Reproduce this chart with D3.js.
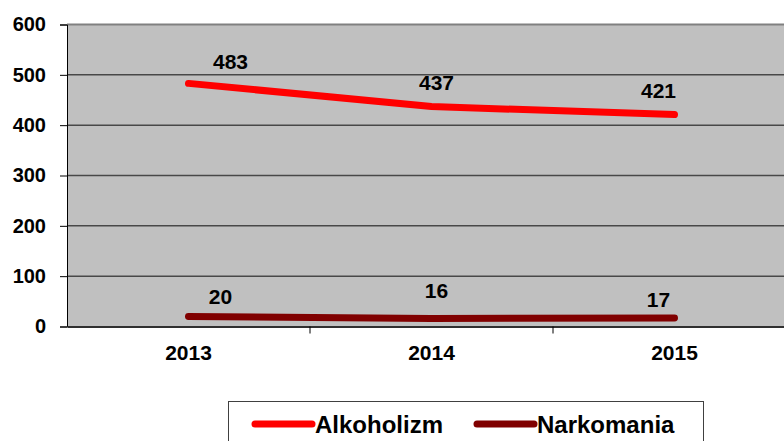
<!DOCTYPE html>
<html lang="en">
<head>
    <meta charset="UTF-8">
    <script src="https://d3js.org/d3.v7.min.js"></script>
    <title>Alkoholizm / Narkomania</title>
    <style>
        body { margin: 0; background: white; }
        text { font-family: "Liberation Sans", Arial, sans-serif; font-weight: bold; fill: black; }
    </style>
</head>
<body>
    <div class="fig"></div>
    <script>
        // data
        const years = ["2013", "2014", "2015"];
        const alkoholizm = [483, 437, 421];
        const narkomania = [20, 16, 17];
        const seriesNames = ["Alkoholizm", "Narkomania"];
        const yTicks = [0, 100, 200, 300, 400, 500, 600];

        const seriesColors = ["#ff0000", "#800000"];
        // label nudges, as the original placed them by hand
        const labelDx = [[42, 5, -16], [32, 5, -16]];
        const labelDy = [[-14, -17, -17], [-12, -20, -11]];

        const width = 784, height = 441;
        const plot = { left: 67, right: 796, top: 24.5, bottom: 326.5 };

        const svg = d3.select(".fig").append("svg")
            .attr("width", width)
            .attr("height", height);

        const x = d3.scaleBand().domain(years).range([plot.left, plot.right]);
        const y = d3.scaleLinear().domain([0, 600]).range([plot.bottom, plot.top]);

        // grey plot area
        svg.append("rect")
            .attr("x", plot.left).attr("y", plot.top)
            .attr("width", plot.right - plot.left).attr("height", plot.bottom - plot.top)
            .attr("fill", "#c0c0c0");

        // gridlines
        svg.selectAll(".grid")
            .data(yTicks.filter(d => d > 0 && d < 600))
            .enter().append("line")
            .attr("x1", plot.left).attr("x2", plot.right)
            .attr("y1", d => y(d)).attr("y2", d => y(d))
            .attr("stroke", "#484848").attr("stroke-width", 1.5);

        svg.append("line")
            .attr("x1", plot.left).attr("x2", plot.right)
            .attr("y1", y(600)).attr("y2", y(600))
            .attr("stroke", "#808080").attr("stroke-width", 2);

        // y axis
        const yAxis = svg.append("g")
            .attr("transform", `translate(${plot.left},0)`)
            .call(d3.axisLeft(y).tickValues(yTicks).tickSize(7).tickPadding(14));
        yAxis.select(".domain").attr("stroke", "black");
        yAxis.selectAll("text").style("font-size", "20px").attr("fill", "black");

        // x axis: ticks sit on the band edges
        const xAxis = svg.append("g")
            .attr("transform", `translate(0,${plot.bottom})`)
            .call(d3.axisBottom(x).tickSize(0).tickPadding(19));
        xAxis.select(".domain").attr("stroke", "#303030").attr("stroke-width", 2);
        xAxis.selectAll("text").style("font-size", "21px").attr("fill", "black");
        svg.selectAll(".xtick")
            .data(years.slice(1))
            .enter().append("line")
            .attr("x1", d => x(d)).attr("x2", d => x(d))
            .attr("y1", plot.bottom).attr("y2", plot.bottom + 7)
            .attr("stroke", "black");

        // lines
        const line = d3.line()
            .x((d, i) => x(years[i]) + x.bandwidth() / 2)
            .y(d => y(d));

        [alkoholizm, narkomania].forEach((values, s) => {
            svg.append("path")
                .datum(values)
                .attr("d", line)
                .attr("fill", "none")
                .attr("stroke", seriesColors[s])
                .attr("stroke-width", 7)
                .attr("stroke-linecap", "round")
                .attr("stroke-linejoin", "round");

            svg.selectAll(".lbl" + s)
                .data(values)
                .enter().append("text")
                .attr("x", (d, i) => x(years[i]) + x.bandwidth() / 2 + labelDx[s][i])
                .attr("y", (d, i) => y(d) + labelDy[s][i])
                .attr("text-anchor", "middle")
                .style("font-size", "21px")
                .text(d => d);
        });

        // legend
        const legend = svg.append("g");
        legend.append("rect")
            .attr("x", 228.5).attr("y", 401.5)
            .attr("width", 475).attr("height", 60)
            .attr("fill", "white").attr("stroke", "#404040");

        const legendX = [255, 477];
        seriesNames.forEach((name, s) => {
            legend.append("line")
                .attr("x1", legendX[s]).attr("x2", legendX[s] + 57)
                .attr("y1", 424).attr("y2", 424)
                .attr("stroke", seriesColors[s])
                .attr("stroke-width", 7)
                .attr("stroke-linecap", "round");
            legend.append("text")
                .attr("x", legendX[s] + 60)
                .attr("y", 433)
                .style("font-size", "24px")
                .text(name);
        });
    </script>
</body>
</html>
